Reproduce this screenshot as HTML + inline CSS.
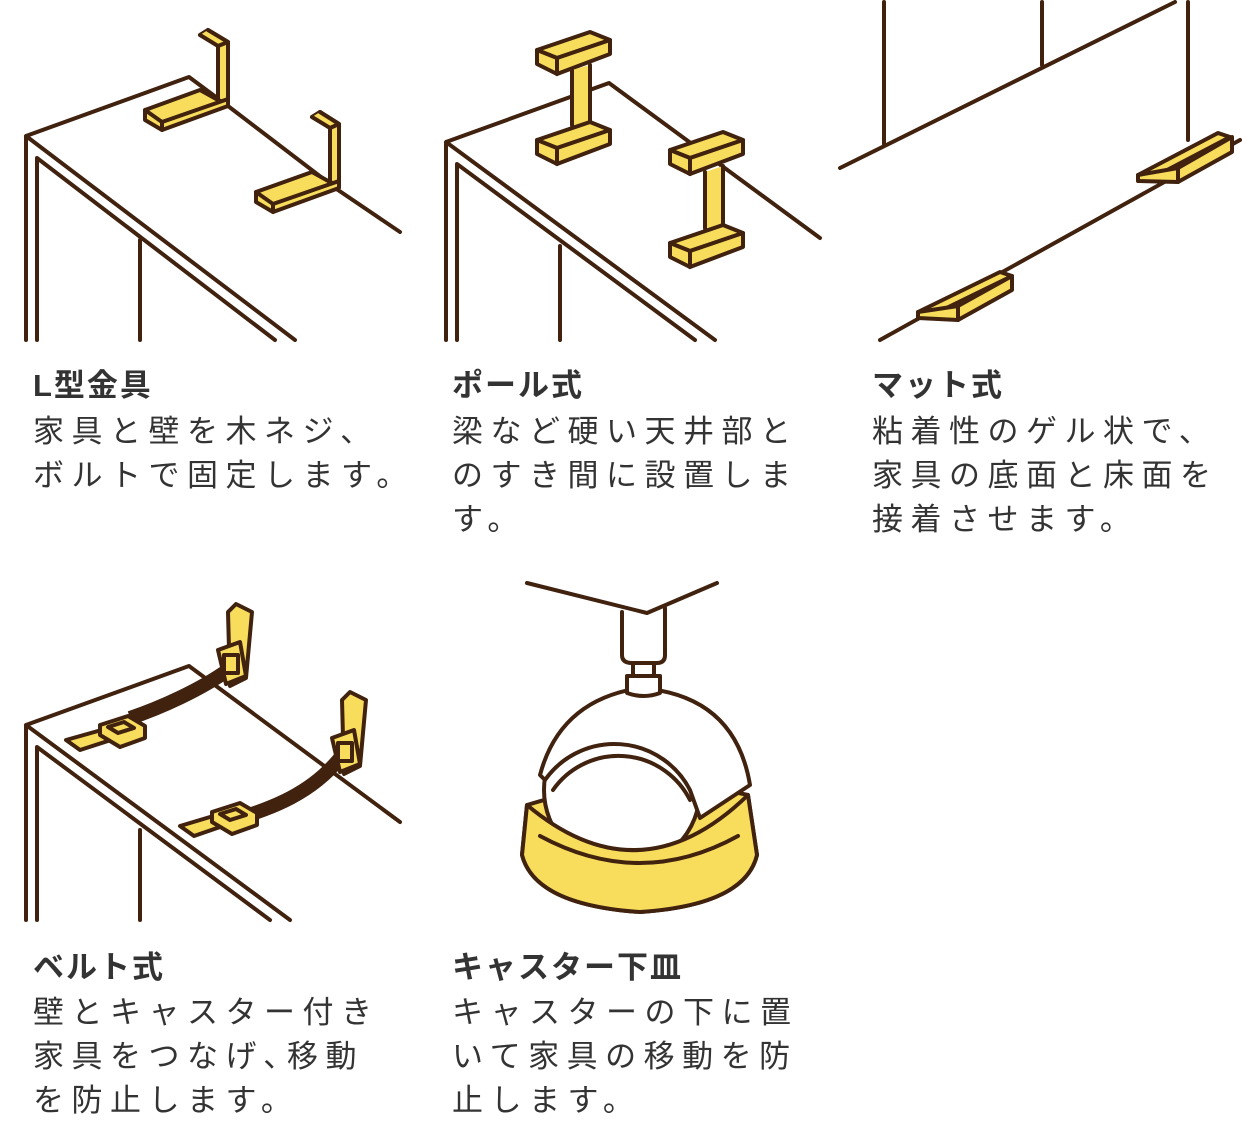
<!DOCTYPE html>
<html><head><meta charset="utf-8"><style>
html,body{margin:0;padding:0;background:#fff;}
body{width:1242px;height:1145px;position:relative;overflow:hidden;font-family:"Liberation Sans","Noto Sans CJK JP",sans-serif;color:#333;}
svg{position:absolute;left:0;top:0;}
.t{position:absolute;font-weight:bold;font-size:31px;letter-spacing:2px;line-height:36px;}
.b{position:absolute;font-size:31px;letter-spacing:7.5px;line-height:44px;white-space:nowrap;}
</style></head><body>
<svg width="1242" height="1145" viewBox="0 0 1242 1145" fill="none" stroke="#40220f" stroke-width="4" stroke-linejoin="round" stroke-linecap="round">
<!-- Panel 1 -->
<g>
<path d="M26,340 V136 L189,77 L228,106 M26,136 L295,340 M37,340 V158 L275,340 M140,340 V240 M228,106 L338,190 M338,190 L400,232"/>
<g fill="#f8dc5c">
<path d="M200,35 L208,30 L228,42 V104 L218,108 V45 Z"/><path d="M208,30 L228,42 L218,46 L200,35"/>
<path d="M145,110 L200,90 L218,100 L228,104 L162,128 Z"/><path d="M145,110 V120 L162,130 V122 Z"/><path d="M162,122 L228,99 V106 L162,130 Z"/>
<path d="M312,117 L320,112 L339,124 V186 L330,190 V127 Z"/><path d="M320,112 L339,124 L330,128 L312,117"/>
<path d="M256,192 L312,172 L330,182 L339,186 L273,210 Z"/><path d="M256,192 V202 L273,212 V204 Z"/><path d="M273,204 L339,181 V188 L273,212 Z"/>
</g></g>
<!-- Panel 2 -->
<g>
<path d="M446,340 V142 L609,83 L820,238 M446,142 L715,340 M457,340 V164 L695,340 M560,340 V246"/>
<g fill="#f8dc5c">
<path d="M537,50 L590,32 L610,40 L557,58 Z"/><path d="M537,50 V64 L557,74 V58 Z"/><path d="M557,58 L610,40 V54 L557,74 Z"/>
<path d="M572,70 V125 A9,5 0 0 0 590,125 V65"/>
<path d="M537,140 L590,122 L610,130 L557,148 Z"/><path d="M537,140 V154 L557,164 V148 Z"/><path d="M557,148 L610,130 V144 L557,164 Z"/>
<path d="M670,150 L723,132 L743,140 L690,158 Z"/><path d="M670,150 V164 L690,174 V158 Z"/><path d="M690,158 L743,140 V154 L690,174 Z"/>
<path d="M705,172 V228 A9,5 0 0 0 723,228 V166"/>
<path d="M670,243 L723,225 L743,233 L690,251 Z"/><path d="M670,243 V257 L690,267 V251 Z"/><path d="M690,251 L743,233 V247 L690,267 Z"/>
</g></g>
<!-- Panel 3 -->
<g>
<path d="M884,2 V145 M1042,2 V65 M1188,2 V140 M840,168 L1175,2 M880,340 L1240,140"/>
<g fill="#f8dc5c">
<path d="M918,312 L1000,272 L1012,276 L930,316 Z"/><path d="M918,312 V318 L958,320 L1012,290 V276 L958,306 Z"/><path d="M958,306 V320"/>
<path d="M1138,175 L1218,133 L1230,137 L1150,179 Z"/><path d="M1138,175 V181 L1178,182 L1232,152 V137 L1178,168 Z"/><path d="M1178,168 V182"/>
</g></g>
<!-- Panel 4 -->
<g>
<path d="M26,920 V725 L189,666 L400,822 M26,725 L290,920 M37,920 V747 L270,920 M140,920 V830"/>
<path d="M130,718 C160,708 200,690 228,670" stroke="#40220f" stroke-width="14" stroke-linecap="butt"/>
<path d="M240,818 C270,808 310,795 340,758" stroke="#40220f" stroke-width="14" stroke-linecap="butt"/>
<g fill="#f8dc5c">
<path d="M228,612 L236,604 L252,612 L246,678 L230,686 Z"/><path d="M218,650 L240,642 L246,676 L226,684 Z"/><rect x="224" y="655" width="14" height="18" fill="none"/>
<path d="M342,700 L350,692 L366,700 L360,766 L344,774 Z"/><path d="M332,738 L354,730 L360,764 L340,772 Z"/><rect x="338" y="743" width="14" height="18" fill="none"/>
<path d="M66,740 L130,722 L142,730 L80,750 Z"/><path d="M100,725 L128,716 L145,726 V738 L120,747 L100,735 Z"/><path d="M108,727 L124,722 L134,728 L118,733 Z"/>
<path d="M180,826 L240,808 L252,816 L194,836 Z"/><path d="M212,812 L240,803 L257,813 V825 L232,834 L212,822 Z"/><path d="M220,814 L236,809 L246,815 L230,820 Z"/>
</g></g>
<!-- Panel 5 -->
<g>
<path d="M527,583 L647,613 L717,583"/>
<path d="M622,612 V655 Q622,663 632,663 H657 Q665,663 665,655 V608"/>
<path d="M633,663 V676 M654,663 V676"/>
<path d="M527,805 L522,855 Q535,905 640,912 Q745,905 757,855 L748,795 Q640,770 527,805 Z" fill="#f8dc5c"/>
<circle cx="622" cy="790" r="78" fill="#fff"/>
<path d="M527,805 Q640,900 748,795 L757,855 Q745,905 640,912 Q535,905 522,855 Z" fill="#f8dc5c"/>
<path d="M540,836 Q640,890 738,836"/>
<path d="M540,775 Q560,700 640,688 Q735,695 750,785 L700,818 L690,790 A85,85 0 0 0 545,780 Z" fill="#fff"/>
<path d="M553,790 A80,80 0 0 1 690,800"/>
<path d="M627,676 H660 V693 Q644,699 627,693 Z" fill="#fff"/>
</g>
</svg>
<div class="t" style="left:33px;top:368px;">L型金具</div>
<div class="b" style="left:33px;top:410px;">家具と壁を木ネジ、<br>ボルトで固定します。</div>
<div class="t" style="left:452px;top:368px;">ポール式</div>
<div class="b" style="left:452px;top:410px;">梁など硬い天井部と<br>のすき間に設置しま<br>す。</div>
<div class="t" style="left:872px;top:368px;">マット式</div>
<div class="b" style="left:872px;top:410px;">粘着性のゲル状で、<br>家具の底面と床面を<br>接着させます。</div>
<div class="t" style="left:33px;top:950px;">ベルト式</div>
<div class="b" style="left:33px;top:991px;">壁とキャスター付き<br>家具をつなげ､移動<br>を防止します。</div>
<div class="t" style="left:452px;top:950px;">キャスター下皿</div>
<div class="b" style="left:452px;top:991px;">キャスターの下に置<br>いて家具の移動を防<br>止します。</div>
</body></html>
